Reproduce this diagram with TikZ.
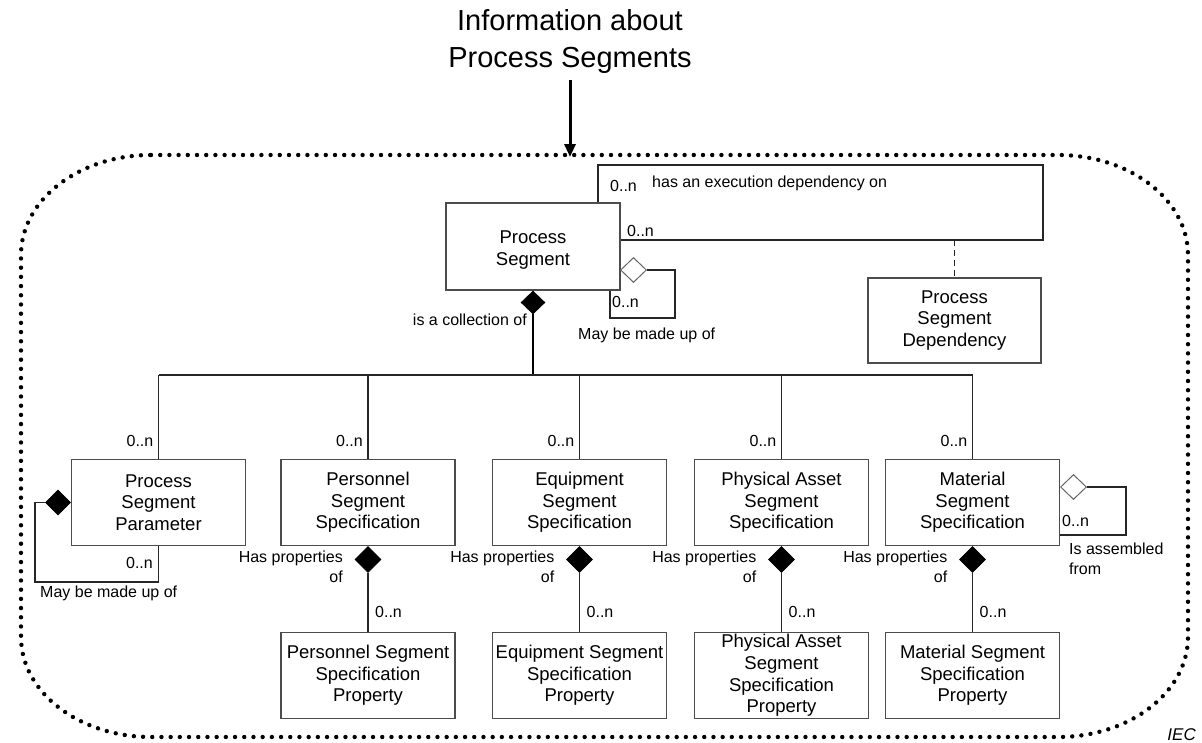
\documentclass[tikz,border=0pt]{standalone}
\usepackage{fontspec}
\setmainfont{Liberation Sans}
\usetikzlibrary{shapes.geometric,arrows.meta}
\begin{document}
\begin{tikzpicture}[x=1pt,y=-1pt,
  cls/.style={draw=black!70,line width=1.4pt,fill=white,minimum width=174pt,minimum height=86pt,
    inner sep=2pt,align=center,font=\fontsize{18.5}{21.7}\selectfont},
  clstext/.style={inner sep=0pt,align=center,font=\fontsize{18.5}{21.7}\selectfont},
  lbl/.style={inner sep=0pt,font=\fontsize{16}{20}\selectfont},
  fdia/.style={diamond,draw=black,fill=black,inner sep=0pt,minimum width=26pt,minimum height=26pt,line width=0.6pt},
  odia/.style={diamond,draw=black!60,fill=white,inner sep=0pt,minimum width=26pt,minimum height=25pt,line width=1pt},
  conn/.style={line width=1.2pt,draw=black!85},
]
\useasboundingbox (0,0) rectangle (1202,742);

% heading and pointer into the group
\node[align=center,inner sep=0pt,font=\fontsize{29}{37}\selectfont] (title) at (570,41) {Information about\\Process Segments};
\coordinate (grouptop) at (570,157);
\draw[line width=3pt,-{Triangle[length=13pt,width=11pt]}] (570,80) -- (grouptop);

% dotted group outline with wide rounded corners
\draw[line width=4.4pt,line cap=round,dash pattern=on 0pt off 9.2pt]
  (151,155) -- (1058,155)
  arc[start angle=90,end angle=0,x radius=130pt,y radius=100pt]
  -- (1188,637)
  arc[start angle=0,end angle=-90,x radius=130pt,y radius=100pt]
  -- (151,737)
  arc[start angle=270,end angle=180,x radius=130pt,y radius=100pt]
  -- (21,255)
  arc[start angle=180,end angle=90,x radius=130pt,y radius=100pt];

% classes
\node[cls,minimum width=174pt,minimum height=87pt] (ps) at (533,246.5) {};
\node[clstext] (pstext) at ([yshift=-3.5pt]ps.center) {Process\\Segment};
\node[cls,minimum width=173pt,minimum height=85pt] (psd) at (954.5,320.5) {Process\\Segment\\Dependency};

\node[cls] (psp)   at (158.5,502.5) {Process\\Segment\\Parameter};
\node[cls] (perss) at (368,502.5) {Personnel\\Segment\\Specification};
\node[cls] (eqss)  at (579.5,502.5) {Equipment\\Segment\\Specification};
\node[cls] (pass)  at (781.5,502.5) {Physical Asset\\Segment\\Specification};
\node[cls] (matss) at (972.5,502.5) {Material\\Segment\\Specification};

\node[cls] (perssp) at (368,675.5) {Personnel Segment\\Specification\\Property};
\node[cls] (eqssp)  at (579.5,675.5) {Equipment Segment\\Specification\\Property};
\node[cls] (passp)  at (781.5,675.5) {Physical Asset\\Segment\\Specification\\Property};
\node[cls] (matssp) at (972.5,675.5) {Material Segment\\Specification\\Property};

% execution dependency association
\coordinate (dtl) at (598,165);
\coordinate (dtr) at (1043,165);
\coordinate (dbr) at (1043,240);
\draw[conn] (ps.north -| dtl) -- (dtl) -- (dtr) -- (dbr) -- (ps.east |- dbr);
\draw[conn,dash pattern=on 6pt off 4pt] (psd.north |- dbr) -- (psd.north);
\node[lbl,anchor=west] (m1) at (610,186) {0..n};
\node[lbl,anchor=west] (t1) at (652,183) {has an execution dependency on};
\node[lbl,anchor=west] (m2) at (627,231) {0..n};

% process segment self aggregation
\node[odia,anchor=west] (od1) at (620,270) {};
\coordinate (la) at (675,318);
\coordinate (lb) at (610,318);
\draw[conn] (od1.east) -| (la) -- (lb) -- (lb |- ps.south);
\node[lbl,anchor=west] (m3) at (612,302) {0..n};
\node[lbl,anchor=west] (t2) at (578,335) {May be made up of};

% composition into the specifications
\node[fdia,anchor=north,minimum width=24pt,minimum height=23pt] (dc) at (ps.south) {};
\coordinate (bus) at (533,375);
\draw[line width=2.2pt] (dc.south) -- (bus);
\draw[conn] (psp.north |- bus) -- (matss.north |- bus);
\foreach \n in {psp,perss,eqss,pass,matss}{
  \draw[conn] (\n.north |- bus) -- (\n.north);
  \node[lbl,anchor=east] (c\n) at ([xshift=-5pt,yshift=18pt]\n.north) {0..n};
}
\node[lbl,anchor=east] (t3) at (527,320) {is a collection of};

% parameter self composition
\node[fdia,anchor=east,minimum width=25pt,minimum height=25pt] (fd) at (psp.west) {};
\coordinate (pa) at (35,582);
\coordinate (pb) at (158.5,582);
\draw[conn] (fd.west) -| (pa) -- (pb) -- (psp.south);
\node[lbl,anchor=east] (m4) at (153,563) {0..n};
\node[lbl,anchor=west] (t4) at (40,593) {May be made up of};

% property compositions
\foreach \a/\b in {perss/perssp,eqss/eqssp,pass/passp,matss/matssp}{
  \node[fdia,anchor=north] (h\a) at (\a.south) {};
  \draw[conn] (h\a.south) -- (\b.north);
  \node[lbl,anchor=north east,align=right] (hp\a) at ([xshift=-25pt,yshift=-4pt]\a.south) {Has properties\\of};
  \node[lbl,anchor=west] (n\a) at ([xshift=7pt,yshift=20pt]\b.north) {0..n};
}

% material self aggregation
\node[odia,anchor=west] (od2) at (1060,487) {};
\coordinate (ma) at (1126,535);
\draw[conn] (od2.east) -| (ma) -- (matss.east |- ma);
\node[lbl,anchor=west] (m5) at (1062,521) {0..n};
\node[lbl,anchor=north west,align=left] (t5) at (1069,543) {Is assembled\\from};

\node[inner sep=0pt,anchor=east,font=\fontsize{17}{19}\selectfont\itshape] (iec) at (1196,735) {IEC};
\end{tikzpicture}
\end{document}
